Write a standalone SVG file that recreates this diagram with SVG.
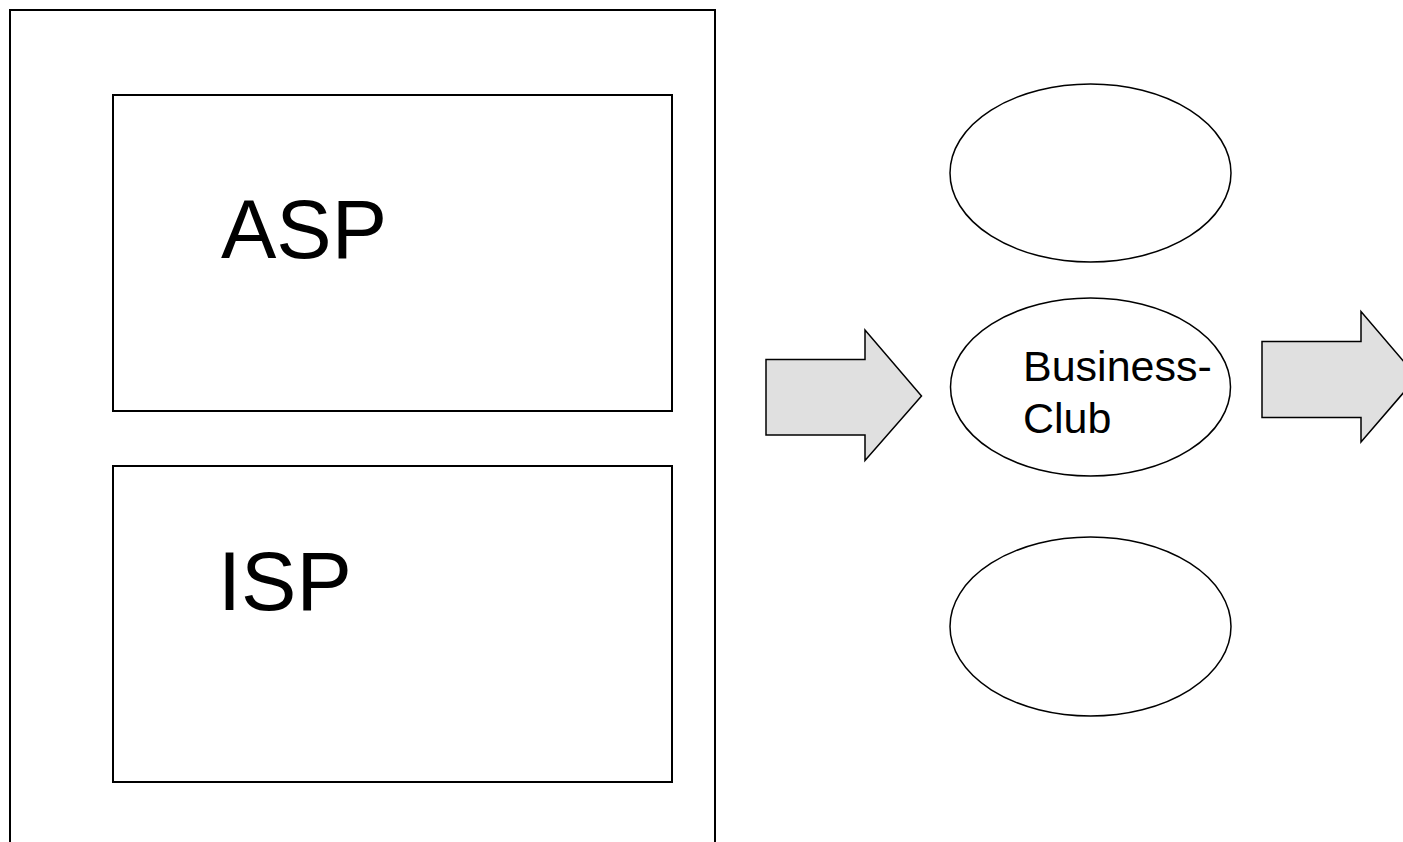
<svg xmlns="http://www.w3.org/2000/svg" width="1403" height="842" viewBox="0 0 1403 842">
<style>
.box{fill:#fff;stroke:#000;stroke-width:2}
.ell{fill:#fff;stroke:#000;stroke-width:1.5}
.arr{fill:#e0e0e0;stroke:#000;stroke-width:1.5;stroke-linejoin:miter}
.big{font-family:"Liberation Sans",Arial,sans-serif;font-size:83px;fill:#000}
.small{font-family:"Liberation Sans",Arial,sans-serif;font-size:43px;fill:#000}
</style>
<rect width="1403" height="842" fill="#fff"/>
<g id="outer"><path class="box" d="M10,850 V10 H715 V850"/></g>
<g id="asp"><rect class="box" x="113" y="95" width="559" height="316"/><text class="big" x="221" y="258">ASP</text></g>
<g id="isp"><rect class="box" x="113" y="466" width="559" height="316"/><text class="big" x="218" y="610">ISP</text></g>
<g id="ellipse-top"><ellipse class="ell" cx="1090.5" cy="173" rx="140.5" ry="89"/></g>
<g id="business-club"><ellipse class="ell" cx="1090.5" cy="387" rx="140" ry="89"/>
<text class="small" x="1023" y="381">Business-</text><text class="small" x="1023" y="433">Club</text></g>
<g id="ellipse-bottom"><ellipse class="ell" cx="1090.5" cy="626.5" rx="140.5" ry="89.5"/></g>
<g id="connectors">
<polygon class="arr" points="766,359.5 865,359.5 865,330 921.5,396 865,460.5 865,435 766,435"/>
<polygon class="arr" points="1262,341.5 1361,341.5 1361,311.5 1417,377 1361,442 1361,417.5 1262,417.5"/>
</g>
</svg>
